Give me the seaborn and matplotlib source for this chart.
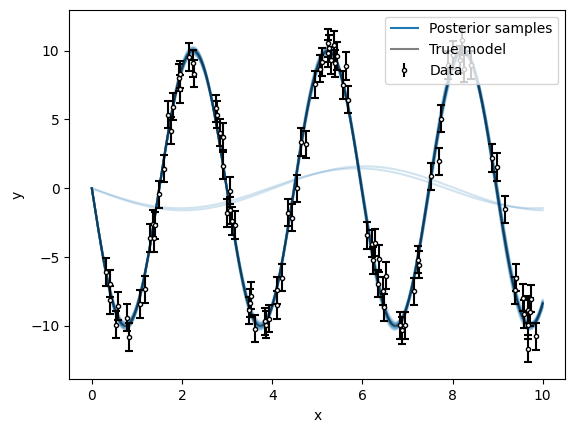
import numpy as np
import pandas as pd
import seaborn as sns
import matplotlib.pyplot as plt
from matplotlib.lines import Line2D

x_data = [0.31, 0.40, 0.40, 0.54, 0.57, 0.79, 0.83, 1.07, 1.19, 1.30,
          1.36, 1.38, 1.41, 1.50, 1.61, 1.70, 1.76, 1.81, 1.93, 1.95,
          1.96, 2.16, 2.24, 2.27, 2.76, 2.77, 2.84, 2.92, 2.92, 2.99,
          3.06, 3.07, 3.10, 3.17, 3.48, 3.50, 3.54, 3.62, 3.83, 3.87,
          3.94, 4.10, 4.10, 4.21, 4.36, 4.45, 4.56, 4.64, 4.76, 4.94,
          5.07, 5.10, 5.24, 5.24, 5.27, 5.30, 5.36, 5.39, 5.43, 5.58,
          5.63, 5.68, 6.11, 6.21, 6.24, 6.29, 6.34, 6.36, 6.46, 6.48,
          6.52, 6.84, 6.88, 6.94, 7.15, 7.24, 7.26, 7.52, 7.69, 7.74,
          7.89, 8.01, 8.16, 8.22, 8.26, 8.42, 8.87, 8.98, 9.16, 9.39,
          9.41, 9.56, 9.59, 9.67, 9.67, 9.68, 9.72, 9.74, 9.85]
y_data = [-6.08, -6.93, -8.10, -9.90, -8.55, -9.40, -10.80, -8.40, -7.35, -3.60,
          -2.57, -3.60, -2.70, -0.44, 1.43, 5.36, 4.20, 5.94, 8.05, 8.27,
          7.20, 9.55, 9.07, 8.34, 5.80, 5.36, 4.05, 3.76, 1.65, -1.79,
          -0.17, -1.60, -2.37, -2.67, -8.87, -8.34, -7.80, -10.20, -9.67, -9.90,
          -9.48, -8.50, -7.42, -6.50, -1.77, -2.13, 0.00, 3.35, 3.20, 7.56,
          8.70, 9.19, 9.80, 10.57, 10.16, 9.30, 10.40, 9.07, 9.60, 7.49,
          8.87, 6.45, -3.42, -4.02, -5.24, -3.95, -6.93, -5.11, -7.47, -8.65,
          -6.35, -9.96, -10.33, -9.96, -7.49, -5.19, -5.55, 0.87, 1.96, 5.07,
          8.95, 9.67, 9.36, 10.76, 8.70, 8.95, 2.20, 1.55, -1.53, -7.42,
          -6.50, -7.95, -9.12, -8.82, -11.66, -9.96, -9.00, -8.02, -10.76]
y_err = 1.0

# Posterior samples of y = -A sin(w x)
amp_samples = [10.1, 9.9, 10.2, 9.8, 10.0, 10.3, 9.7, 10.1, 9.9, 10.0,
               10.2, 9.8, 10.0, 10.1, 9.9, 10.0, 10.2, 9.8, 10.1, 9.9,
               1.45, 1.6]
freq_samples = [2.100, 2.098, 2.103, 2.096, 2.101, 2.105, 2.094, 2.099, 2.102, 2.097,
                2.104, 2.100, 2.095, 2.103, 2.099, 2.101, 2.098, 2.102, 2.096, 2.100,
                0.80, 0.78]
true_amp, true_freq = 10.0, 2.1

xs = np.linspace(0, 10, 500)
df = pd.concat([pd.DataFrame({"x": xs, "y": -a * np.sin(w * xs), "sample": i})
                for i, (a, w) in enumerate(zip(amp_samples, freq_samples))])

fig = plt.figure(figsize=(5.74, 4.32), dpi=100)
ax = fig.add_axes([0.1207, 0.122, 0.8641, 0.8556])

sns.lineplot(data=df, x="x", y="y", units="sample", estimator=None,
             color="C0", alpha=0.2, lw=1.5, legend=False, ax=ax)
sns.lineplot(x=xs, y=-true_amp * np.sin(true_freq * xs), color="k", alpha=0.5,
             lw=1.5, ax=ax)
eb_style = dict(fmt="o", color="k", mfc="white", mec="k", ms=3,
                capsize=3, elinewidth=1.5, capthick=1.5)
ax.errorbar(x_data, y_data, yerr=y_err, zorder=3, **eb_style)

handles = [Line2D([], [], color="C0", lw=1.5),
           Line2D([], [], color="gray", lw=1.5),
           ax.errorbar([], [], yerr=[], **eb_style)]
ax.legend(handles, ["Posterior samples", "True model", "Data"], loc="upper right")
ax.set_xlabel("x")
ax.set_ylabel("y")

fig.savefig("out.png", dpi=100)
